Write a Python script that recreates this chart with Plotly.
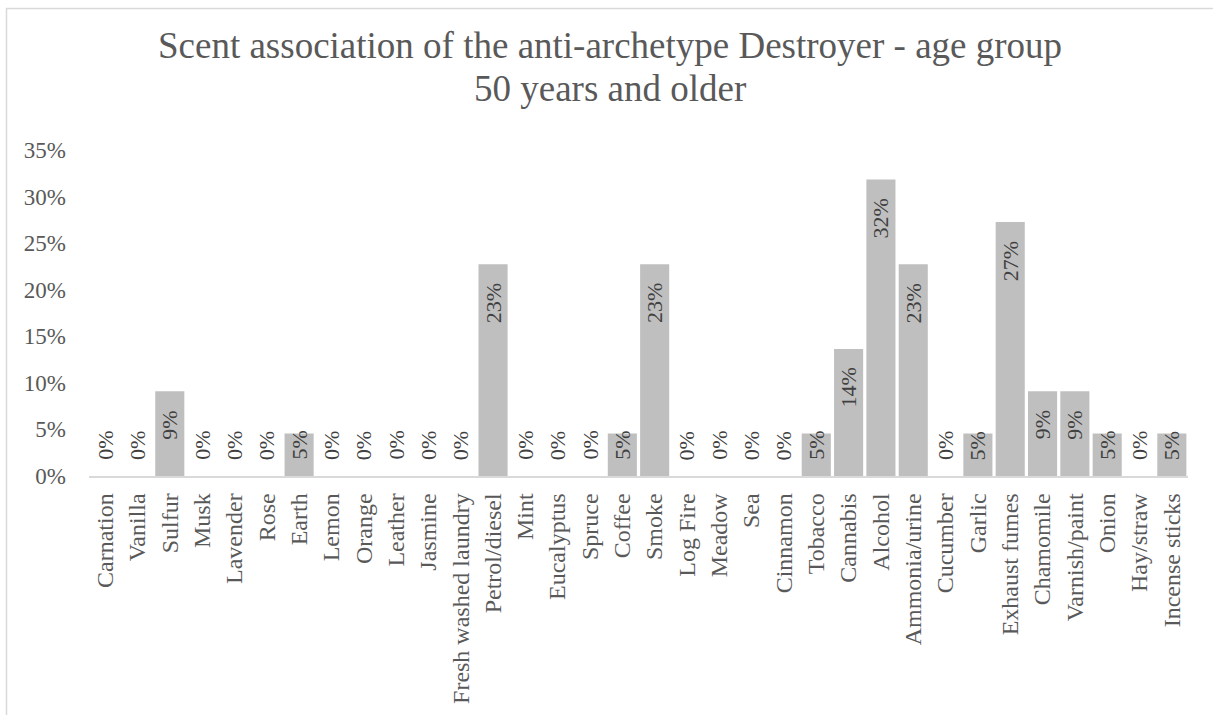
import plotly.graph_objects as go

# Scent categories (x axis) and share of respondents (y axis)
categories = [
    "Carnation", "Vanilla", "Sulfur", "Musk", "Lavender", "Rose", "Earth",
    "Lemon", "Orange", "Leather", "Jasmine", "Fresh washed laundry",
    "Petrol/diesel", "Mint", "Eucalyptus", "Spruce", "Coffee", "Smoke",
    "Log Fire", "Meadow", "Sea", "Cinnamon", "Tobacco", "Cannabis", "Alcohol",
    "Ammonia/urine", "Cucumber", "Garlic", "Exhaust fumes", "Chamomile",
    "Varnish/paint", "Onion", "Hay/straw", "Incense sticks",
]
shares = [
    0.0, 0.0, 0.0909, 0.0, 0.0, 0.0, 0.0455,
    0.0, 0.0, 0.0, 0.0, 0.0,
    0.2273, 0.0, 0.0, 0.0, 0.0455, 0.2273,
    0.0, 0.0, 0.0, 0.0, 0.0455, 0.1364, 0.3182,
    0.2273, 0.0, 0.0455, 0.2727, 0.0909,
    0.0909, 0.0455, 0.0, 0.0455,
]
y_ticks = [0, 0.05, 0.10, 0.15, 0.20, 0.25, 0.30, 0.35]
title_lines = ["Scent association of the anti-archetype Destroyer - age group",
               "50 years and older"]

FONT = "Liberation Serif, Times New Roman, serif"
GREY_TEXT = "#595959"
LABEL_TEXT = "#404040"
BAR = "#bfbfbf"
FRAME = "#d9d9d9"

W, H = 1213, 715
L, R, T, B = 89, 25, 150, 239
PW, PH = W - L - R, H - T - B
YMAX = 0.35


def paper_x(px):
    return (px - L) / PW


def paper_y(py):
    return (H - B - py) / PH


fig = go.Figure(
    go.Bar(
        x=categories,
        y=shares,
        marker=dict(color=BAR, line=dict(width=0)),
        hoverinfo="skip",
    )
)

# value labels, rotated, at the inner end of each bar (or above the base
# when the bar is too short to hold the text)
for cat, v in zip(categories, shares):
    text = f"{v:.0%}"
    bar_px = v / YMAX * PH
    if bar_px >= 64:
        fig.add_annotation(x=cat, y=v, xref="x", yref="y", text=text,
                           textangle=-90, showarrow=False, yanchor="top",
                           yshift=-17,
                           font=dict(family=FONT, size=22, color=LABEL_TEXT))
    else:
        fig.add_annotation(x=cat, y=0, xref="x", yref="y", text=text,
                           textangle=-90, showarrow=False, yanchor="bottom",
                           yshift=14,
                           font=dict(family=FONT, size=22, color=LABEL_TEXT))

# two-line chart title
for i, line in enumerate(title_lines):
    fig.add_annotation(x=paper_x(610), y=paper_y(45 + i * 43), xref="paper",
                       yref="paper", text=line, showarrow=False,
                       xanchor="center", yanchor="middle",
                       font=dict(family=FONT, size=37, color=GREY_TEXT))

# chart-area frame
fig.add_shape(type="rect", xref="paper", yref="paper",
              x0=paper_x(6.5), x1=paper_x(1240), y0=paper_y(8.5), y1=paper_y(740),
              line=dict(color=FRAME, width=1.5), fillcolor="rgba(0,0,0,0)",
              layer="below")

fig.update_layout(
    width=W, height=H,
    margin=dict(l=L, r=R, t=T, b=B, pad=0),
    paper_bgcolor="white", plot_bgcolor="white",
    bargap=0.1,
    showlegend=False,
    font=dict(family=FONT, color=GREY_TEXT),
    xaxis=dict(
        tickangle=-90, tickfont=dict(size=24, color=GREY_TEXT),
        showline=True, linecolor=FRAME, linewidth=1.5,
        showgrid=False, ticks="", ticklabelstandoff=6,
        fixedrange=True,
    ),
    yaxis=dict(
        range=[0, YMAX], tickvals=y_ticks, tickformat=".0%",
        tickfont=dict(size=23, color=GREY_TEXT),
        showgrid=False, zeroline=False, showline=False, ticks="",
        ticklabelstandoff=22, fixedrange=True,
    ),
)

fig.write_html("out.html", config={"displayModeBar": False})
